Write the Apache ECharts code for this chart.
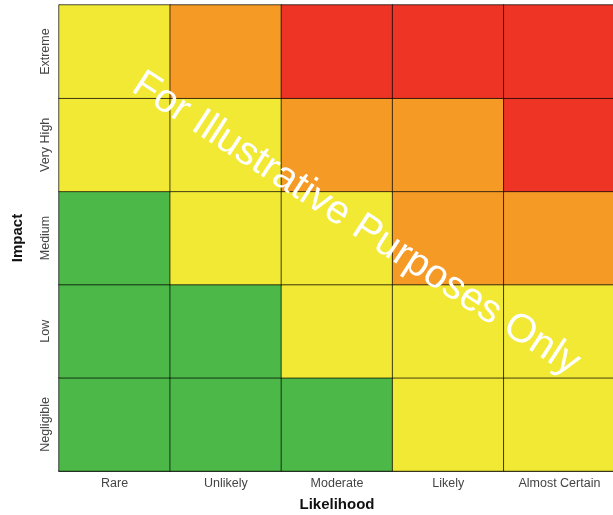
<!DOCTYPE html>
<html><head><meta charset="utf-8">
<script src="https://cdn.jsdelivr.net/npm/echarts@6/dist/echarts.min.js"></script>
<style>html,body{margin:0;padding:0;background:#fff}#c{width:613px;height:515px}</style>
</head><body><div id="c"></div>
<script>
const likelihood = ['Rare','Unlikely','Moderate','Likely','Almost Certain'];
const impact = ['Negligible','Low','Medium','Very High','Extreme'];
// risk level per row (impact, bottom to top), per column (likelihood): 1 green, 2 yellow, 3 orange, 4 red
const negligibleRow = [1,1,1,2,2];
const lowRow = [1,1,2,2,2];
const mediumRow = [1,2,2,3,3];
const veryHighRow = [2,2,3,3,4];
const extremeRow = [2,3,4,4,4];
const rows = [negligibleRow, lowRow, mediumRow, veryHighRow, extremeRow];
const data = [];
rows.forEach((r, yi) => r.forEach((v, xi) => data.push([xi, yi, v])));
const chart = echarts.init(document.getElementById('c'));
chart.setOption({
  animation: false,
  grid: {left: 59, right: -2, top: 5, bottom: 44, outerBoundsMode: 'none', containLabel: false},
  xAxis: {type: 'category', data: likelihood, name: 'Likelihood', nameLocation: 'middle', nameGap: 26,
    nameTextStyle: {fontSize: 15, fontWeight: 'bold', color: '#111', fontFamily: 'Liberation Sans'},
    axisLine: {lineStyle: {color: '#111', width: 1.5}}, axisTick: {show: false},
    axisLabel: {color: '#444', fontSize: 12.5, fontFamily: 'Liberation Sans', margin: 6},
    splitArea: {show: false}},
  yAxis: {type: 'category', data: impact, name: 'Impact', nameLocation: 'middle', nameGap: 34,
    nameTextStyle: {fontSize: 15, fontWeight: 'bold', color: '#111', fontFamily: 'Liberation Sans'},
    axisLine: {lineStyle: {color: '#999', width: 1}}, axisTick: {show: false},
    axisLabel: {color: '#444', fontSize: 12.5, fontFamily: 'Liberation Sans', rotate: 90, margin: 7}},
  visualMap: {show: false, type: 'piecewise', dimension: 2,
    pieces: [{value: 1, color: '#4cb848'}, {value: 2, color: '#f2e935'}, {value: 3, color: '#f59a25'}, {value: 4, color: '#ee3424'}]},
  series: [{type: 'heatmap', data: data,
    itemStyle: {borderColor: 'rgba(0,0,0,0.7)', borderWidth: 1}, label: {show: false}}],
  graphic: [{type: 'text', x: 356, y: 224, rotation: -33 * Math.PI / 180,
    style: {text: 'For Illustrative Purposes Only', fill: '#fff', fontSize: 40,
      fontFamily: 'Liberation Sans', textAlign: 'center', textVerticalAlign: 'middle',
      shadowColor: 'rgba(0,0,0,0.25)', shadowBlur: 2, shadowOffsetX: 1, shadowOffsetY: 1}, z: 100}]
});
</script></body></html>
